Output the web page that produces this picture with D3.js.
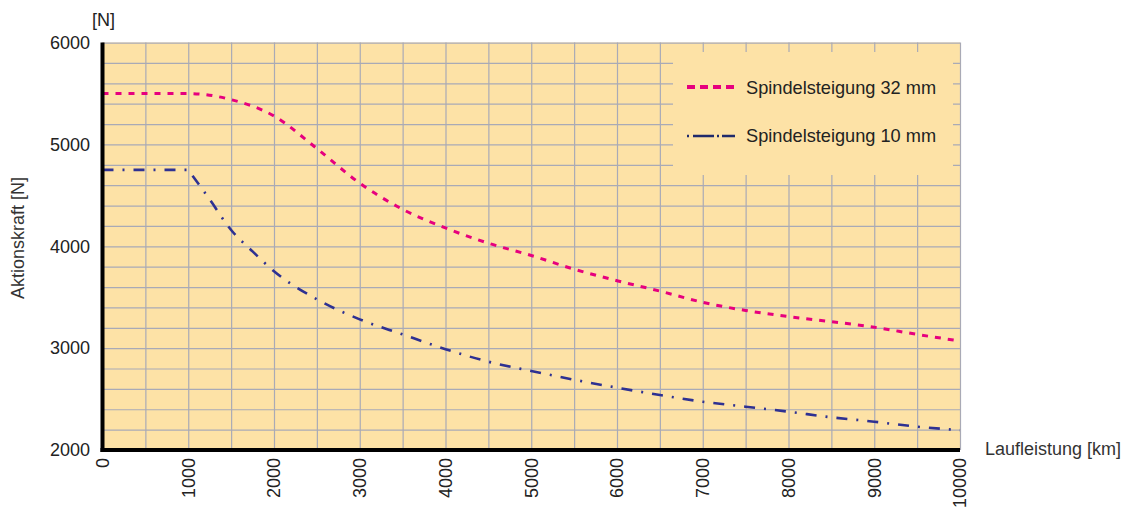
<!DOCTYPE html>
<html>

<head>
    <script src="https://cdnjs.cloudflare.com/ajax/libs/d3/7.8.5/d3.min.js"></script>
    <style>
        body { margin: 0; background: #fff; }
        text { font-family: "Liberation Sans", Arial, Helvetica, sans-serif; }
    </style>
</head>

<body>
    <script>
        // Laufleistung [km]
        var km32 = [0, 500, 1000, 1500, 2000, 2500, 3000, 3500, 4000, 4500, 5000,
            5500, 6000, 6500, 7000, 7500, 8000, 8500, 9000, 9500, 10000];
        var kraft32 = [5500, 5500, 5500, 5440, 5280, 4960, 4620, 4363, 4180, 4030, 3910,
            3775, 3662, 3560, 3450, 3370, 3310, 3260, 3205, 3135, 3070];

        var km10 = [0, 1000, 1250, 1500, 1750, 2000, 2500, 3000, 3500, 4000, 4500, 5000,
            5500, 6000, 6500, 7000, 7500, 8000, 8500, 9000, 9500, 10000];
        var kraft10 = [4750, 4750, 4460, 4160, 3950, 3755, 3480, 3283, 3135, 2990, 2867, 2776,
            2690, 2612, 2540, 2474, 2425, 2376, 2321, 2278, 2229, 2195];

        var xTicks = d3.range(0, 10001, 1000);
        var yTicks = [2000, 3000, 4000, 5000, 6000];
        var legendLabels = ['Spindelsteigung 32 mm', 'Spindelsteigung 10 mm'];

        var W = 1122, H = 510;
        var x0 = 102.5, x1 = 960, y0 = 450, y1 = 42.6;

        var svg = d3.select('body')
            .append('svg')
            .attr('width', W)
            .attr('height', H);

        var x = d3.scaleLinear().domain([0, 10000]).range([x0, x1]);
        var y = d3.scaleLinear().domain([2000, 6000]).range([y0, y1]);

        // background
        svg.append('rect')
            .attr('x', x0).attr('y', y1)
            .attr('width', x1 - x0).attr('height', y0 - y1)
            .style('fill', '#fde2a6');

        // grid
        var gx = svg.append('g')
            .attr('transform', 'translate(0,' + y0 + ')')
            .call(d3.axisBottom(x).tickValues(d3.range(0, 10001, 500)).tickSize(-(y0 - y1)).tickFormat(''));
        var gy = svg.append('g')
            .attr('transform', 'translate(' + x0 + ',0)')
            .call(d3.axisLeft(y).tickValues(d3.range(2000, 6001, 200)).tickSize(-(x1 - x0)).tickFormat(''));
        [gx, gy].forEach(function(g) {
            g.select('.domain').remove();
            g.selectAll('line').style('stroke', '#a9aab6').style('stroke-width', 1.2);
        });

        // legend box hides the grid inside
        svg.append('rect')
            .attr('x', 673).attr('y', 52)
            .attr('width', 280).attr('height', 123)
            .style('fill', '#fde2a6');

        var line = d3.line()
            .x(function(d) { return x(d[0]); })
            .y(function(d) { return y(d[1]); })
            .curve(d3.curveMonotoneX);

        var data32 = km32.map(function(k, i) { return [k, kraft32[i]]; });
        var data10 = km10.map(function(k, i) { return [k, kraft10[i]]; });

        svg.append('path')
            .attr('d', line(data32))
            .style('fill', 'none')
            .style('stroke', '#e6007e')
            .style('stroke-width', 3)
            .style('stroke-dasharray', '6,7');

        // 10 mm curve has a kink at 1000 km: flat part straight, rest smooth
        var rest = line(data10.slice(1));
        svg.append('path')
            .attr('d', 'M' + x(data10[0][0]) + ',' + y(data10[0][1]) + 'L' + rest.slice(1))
            .style('fill', 'none')
            .style('stroke', '#2e3192')
            .style('stroke-width', 2.6)
            .style('stroke-dasharray', '11,9,2,9');

        // legend
        svg.append('line')
            .attr('x1', 687).attr('x2', 735).attr('y1', 87).attr('y2', 87)
            .style('stroke', '#e6007e').style('stroke-width', 4)
            .style('stroke-dasharray', '8,5');
        svg.append('line')
            .attr('x1', 687).attr('x2', 735).attr('y1', 136).attr('y2', 136)
            .style('stroke', '#1f2a6b').style('stroke-width', 2.5)
            .style('stroke-dasharray', '2,4,21,3,2,3,21');
        svg.selectAll('.leg')
            .data(legendLabels)
            .enter().append('text')
            .attr('x', 746)
            .attr('y', function(d, i) { return 94 + i * 48; })
            .style('font-size', '18.2px')
            .style('fill', '#222')
            .text(function(d) { return d; });

        // thick axis lines
        svg.append('line')
            .attr('x1', x0).attr('x2', x0).attr('y1', y1).attr('y2', y0 + 2)
            .style('stroke', '#000').style('stroke-width', 4);
        svg.append('line')
            .attr('x1', x0 - 2).attr('x2', x1).attr('y1', y0).attr('y2', y0)
            .style('stroke', '#000').style('stroke-width', 4);

        // tick labels
        var ay = svg.append('g')
            .attr('transform', 'translate(' + x0 + ',0)')
            .call(d3.axisLeft(y).tickValues(yTicks).tickSize(0).tickPadding(12.5).tickFormat(d3.format('d')));
        ay.select('.domain').remove();
        ay.selectAll('text')
            .style('font-size', '18px')
            .style('font-family', '"Liberation Sans", Arial, sans-serif')
            .style('fill', '#222');

        svg.selectAll('.xl')
            .data(xTicks)
            .enter().append('text')
            .attr('transform', function(d) { return 'translate(' + x(d) + ',458) rotate(-90)'; })
            .attr('dy', '0.35em')
            .attr('text-anchor', 'end')
            .style('font-size', '18px')
            .style('fill', '#222')
            .text(function(d) { return d; });

        // axis titles
        svg.append('text')
            .attr('x', 92).attr('y', 26)
            .style('font-size', '18px')
            .style('fill', '#222')
            .text('[N]');
        svg.append('text')
            .attr('x', 985).attr('y', 455)
            .style('font-size', '18px')
            .style('fill', '#333')
            .text('Laufleistung [km]');
        svg.append('text')
            .attr('transform', 'translate(24,238) rotate(-90)')
            .attr('text-anchor', 'middle')
            .style('font-size', '18px')
            .style('fill', '#333')
            .text('Aktionskraft [N]');
    </script>
</body>

</html>
